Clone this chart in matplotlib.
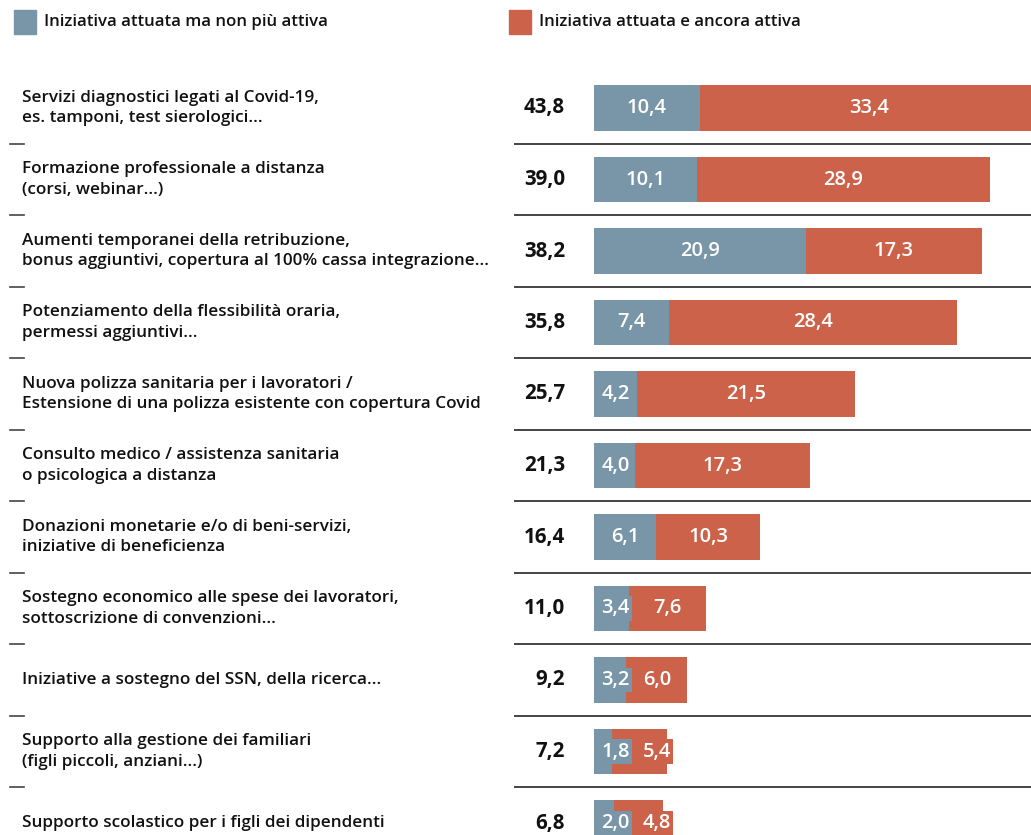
import matplotlib.pyplot as plt
from matplotlib.patches import Rectangle

# data
labels = [
    "Servizi diagnostici legati al Covid-19,\nes. tamponi, test sierologici...",
    "Formazione professionale a distanza\n(corsi, webinar...)",
    "Aumenti temporanei della retribuzione,\nbonus aggiuntivi, copertura al 100% cassa integrazione...",
    "Potenziamento della flessibilità oraria,\npermessi aggiuntivi...",
    "Nuova polizza sanitaria per i lavoratori /\nEstensione di una polizza esistente con copertura Covid",
    "Consulto medico / assistenza sanitaria\no psicologica a distanza",
    "Donazioni monetarie e/o di beni-servizi,\niniziative di beneficienza",
    "Sostegno economico alle spese dei lavoratori,\nsottoscrizione di convenzioni...",
    "Iniziative a sostegno del SSN, della ricerca...",
    "Supporto alla gestione dei familiari\n(figli piccoli, anziani...)",
    "Supporto scolastico per i figli dei dipendenti",
]
non_attiva = [10.4, 10.1, 20.9, 7.4, 4.2, 4.0, 6.1, 3.4, 3.2, 1.8, 2.0]
attiva = [33.4, 28.9, 17.3, 28.4, 21.5, 17.3, 10.3, 7.6, 6.0, 5.4, 4.8]
totali = [43.8, 39.0, 38.2, 35.8, 25.7, 21.3, 16.4, 11.0, 9.2, 7.2, 6.8]
legend_labels = ["Iniziativa attuata ma non più attiva", "Iniziativa attuata e ancora attiva"]

BLUE = "#7896a8"
RED = "#cc6249"
W, H = 1031, 835
px_unit = 10.15
row_px = 71.5
first_row = 108

plt.rcParams['font.family'] = ['Open Sans', 'DejaVu Sans']

fig = plt.figure(figsize=(W / 100, H / 100), dpi=100)
x0 = 594
ax = fig.add_axes([x0 / W, 0, 1 - x0 / W, 1])
ax.set_xlim(0, (W - x0) / px_unit)
ax.set_ylim((H - first_row) / row_px, -first_row / row_px)
ax.axis('off')

def fmt(v):
    return f"{v:.1f}".replace(".", ",")

n = len(labels)
ys = list(range(n))
ax.barh(ys, non_attiva, height=0.64, color=BLUE)
ax.barh(ys, attiva, left=non_attiva, height=0.64, color=RED)

for i in range(n):
    b, r = non_attiva[i], attiva[i]
    small = b < 3.8
    bx = max(b / 2, 2.1)
    rx = max(b + r / 2, bx + 4.1)
    kw = dict(color="white", fontsize=14.5, va="center", ha="center", weight="semibold")
    if small:
        ax.text(bx, i, fmt(b), bbox=dict(boxstyle="square,pad=0.1", fc=BLUE, ec="none"), **kw)
        ax.text(rx, i, fmt(r), bbox=dict(boxstyle="square,pad=0.1", fc=RED, ec="none"), **kw)
    else:
        ax.text(bx, i, fmt(b), **kw)
        ax.text(rx, i, fmt(r), **kw)

    yfig = 1 - (first_row + row_px * i) / H
    fig.text(565 / W, yfig, fmt(totali[i]), ha="right", va="center",
             fontsize=14.8, weight="bold", color="#111111")
    fig.text(22 / W, yfig, labels[i], ha="left", va="center",
             fontsize=12.3, weight="semibold", color="#111111", linespacing=1.38)

    if i < n - 1:
        ax.axhline(i + 0.5, xmin=(515 - x0) / (W - x0), xmax=1, color="#444444",
                   lw=1.4, clip_on=False)
        ax.axhline(i + 0.5, xmin=(10 - x0) / (W - x0), xmax=(24 - x0) / (W - x0),
                   color="#444444", lw=1.2, clip_on=False)

# legend
for (lx, col, txt) in [(14, BLUE, legend_labels[0]), (509, RED, legend_labels[1])]:
    fig.patches.append(Rectangle((lx / W, 1 - 34 / H), 22 / W, 24 / H,
                                 transform=fig.transFigure, color=col))
    fig.text((lx + 30) / W, 1 - 22 / H, txt, ha="left", va="center",
             fontsize=12.1, weight="semibold", color="#111111")

fig.savefig("out.png", dpi=100)
